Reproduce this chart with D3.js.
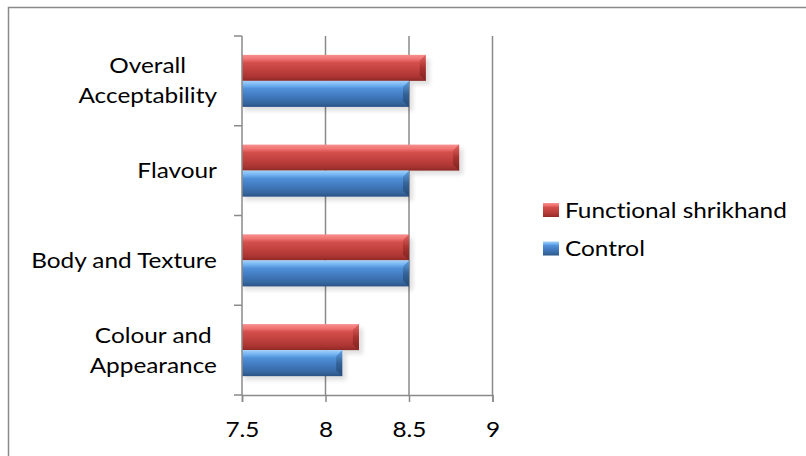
<!DOCTYPE html>
<html>
<head>
<meta charset="utf-8">
<script src="https://cdn.jsdelivr.net/npm/d3@7/dist/d3.min.js"></script>
<style>
  html, body { margin: 0; padding: 0; background: #fff; }
  svg { display: block; }
  text { font-family: Lato, "Open Sans", sans-serif; fill: #000; font-variant-ligatures: none; }
</style>
</head>
<body>
<svg id="chart" width="806" height="456"></svg>
<script>
// Sensory scores per attribute (top to bottom as drawn)
const categories = [
  ["Overall", "Acceptability"],
  ["Flavour"],
  ["Body and Texture"],
  ["Colour and", "Appearance"]
];
const functionalValues = [8.6, 8.8, 8.5, 8.2];
const controlValues    = [8.5, 8.5, 8.5, 8.1];
const seriesNames = ["Functional shrikhand", "Control"];
const xTicks = [7.5, 8, 8.5, 9];

const svg = d3.select("#chart");
const gridColor = "#8a8a8a";
const fontSize = 21;
const stretch = 1.16;   // wide lettering

// Outer chart frame
svg.append("rect")
  .attr("x", 8.5).attr("y", 7.5)
  .attr("width", 820).attr("height", 470)
  .attr("fill", "none").attr("stroke", "#8a8a8a").attr("stroke-width", 1.5);

const plot = { left: 242, right: 492.5, top: 36, bottom: 395 };

const x = d3.scaleLinear().domain([7.5, 9]).range([plot.left, plot.right]);
const y = d3.scaleBand()
  .domain(d3.range(categories.length))
  .range([plot.top, plot.bottom])
  .padding(0);

const band = y.bandwidth();
const barH = band * 0.29;

// Gradients giving the bars their bevelled look
const defs = svg.append("defs");
function vgrad(id, stops) {
  const g = defs.append("linearGradient").attr("id", id)
    .attr("x1", 0).attr("y1", 0).attr("x2", 0).attr("y2", 1);
  stops.forEach(([o, c]) => g.append("stop").attr("offset", o).attr("stop-color", c));
}
vgrad("redBody", [[0, "#f69090"], [0.16, "#f07472"], [0.3, "#d44f4c"], [0.6, "#bf403d"], [0.85, "#aa3431"], [1, "#8c2826"]]);
vgrad("blueBody", [[0, "#a2d2fa"], [0.16, "#74b4f2"], [0.3, "#5090d8"], [0.6, "#4078bd"], [0.85, "#36679f"], [1, "#2a5286"]]);
vgrad("redEnd", [[0, "#e56462"], [0.5, "#a8322f"], [1, "#7f2321"]]);
vgrad("blueEnd", [[0, "#5fa2e6"], [0.5, "#336399"], [1, "#244a78"]]);

const shadow = defs.append("filter").attr("id", "soft")
  .attr("x", "-10%").attr("y", "-50%").attr("width", "130%").attr("height", "200%");
shadow.append("feGaussianBlur").attr("stdDeviation", 2);

// Vertical gridlines
svg.append("g").selectAll("line")
  .data(xTicks.slice(1))
  .join("line")
  .attr("x1", d => x(d)).attr("x2", d => x(d))
  .attr("y1", plot.top).attr("y2", plot.bottom)
  .attr("stroke", gridColor).attr("stroke-width", 1.5);

// Bars
const rows = categories.map((c, i) => ({ i, values: [functionalValues[i], controlValues[i]] }));
const series = [
  { name: seriesNames[0], body: "url(#redBody)", end: "url(#redEnd)" },
  { name: seriesNames[1], body: "url(#blueBody)", end: "url(#blueEnd)" }
];

const barLayer = svg.append("g");
rows.forEach(r => {
  const center = y(r.i) + band / 2;
  r.values.forEach((v, k) => {
    const y0 = center - barH + k * barH;
    const x0 = x(7.5), x1 = x(v);
    barLayer.append("rect")
      .attr("x", x0 + 2).attr("y", y0 + 4)
      .attr("width", x1 - x0 + 2).attr("height", barH)
      .attr("fill", "#000").attr("opacity", 0.12)
      .attr("filter", "url(#soft)");
  });
});
rows.forEach(r => {
  const center = y(r.i) + band / 2;
  r.values.forEach((v, k) => {
    const y0 = center - barH + k * barH;
    const x0 = x(7.5), x1 = x(v);
    const s = series[k];
    barLayer.append("rect")
      .attr("x", x0).attr("y", y0)
      .attr("width", x1 - x0).attr("height", barH)
      .attr("fill", s.body);
    const bev = 6;
    barLayer.append("polygon")
      .attr("points", [[x1 - bev, y0 + bev], [x1, y0], [x1, y0 + barH], [x1 - bev, y0 + barH - bev]].join(" "))
      .attr("fill", s.end);
  });
});

// Left axis with category ticks
const axisG = svg.append("g");
axisG.append("line")
  .attr("x1", plot.left).attr("x2", plot.left)
  .attr("y1", plot.top).attr("y2", plot.bottom)
  .attr("stroke", gridColor).attr("stroke-width", 1.5);
axisG.selectAll("line.ytick")
  .data(d3.range(categories.length + 1))
  .join("line").attr("class", "ytick")
  .attr("x1", plot.left - 8).attr("x2", plot.left)
  .attr("y1", i => plot.top + i * band).attr("y2", i => plot.top + i * band)
  .attr("stroke", gridColor).attr("stroke-width", 1.5);

// Bottom axis
const xAxis = d3.axisBottom(x).tickValues(xTicks).tickSize(7).tickFormat(d3.format(""));
const xg = svg.append("g").attr("transform", `translate(0,${plot.bottom})`).call(xAxis);
xg.select(".domain").attr("stroke", gridColor).attr("stroke-width", 1.5);
xg.selectAll(".tick line").attr("stroke", gridColor).attr("stroke-width", 1.5);
xg.selectAll(".tick text")
  .attr("y", 0).attr("dy", null)
  .attr("transform", `translate(0,42) scale(${stretch},1)`)
  .style("font-family", "Lato, 'Open Sans', sans-serif")
  .style("font-size", fontSize + "px").attr("fill", "#000");

// Category labels: lines centred on each other, block right-aligned to the axis
const labelRight = 217;
const lineH = 30;
categories.forEach((lines, i) => {
  const center = y(i) + band / 2;
  const t = svg.append("text")
    .attr("font-size", fontSize)
    .attr("text-anchor", "middle");
  t.selectAll("tspan").data(lines).join("tspan").text(d => d);
  let maxW = 0;
  t.selectAll("tspan").each(function () { maxW = Math.max(maxW, this.getComputedTextLength()); });
  const cx = labelRight - maxW * stretch / 2;
  const firstY = center - (lines.length - 1) * lineH / 2;
  t.attr("transform", `translate(${cx},0) scale(${stretch},1)`);
  t.selectAll("tspan")
    .attr("x", 0)
    .attr("y", (d, j) => firstY + j * lineH)
    .attr("dy", "0.36em");
});

// Legend
const legendItems = [
  { name: seriesNames[0], fill: "url(#redBody)", y: 210 },
  { name: seriesNames[1], fill: "url(#blueBody)", y: 248.5 }
];
const lg = svg.append("g");
legendItems.forEach(d => {
  lg.append("rect")
    .attr("x", 543).attr("y", d.y - 7)
    .attr("width", 16).attr("height", 14)
    .attr("fill", d.fill);
  lg.append("text")
    .attr("transform", `translate(565,${d.y}) scale(${stretch},1)`)
    .attr("dy", "0.36em")
    .attr("font-size", fontSize)
    .text(d.name);
});
</script>
</body>
</html>
